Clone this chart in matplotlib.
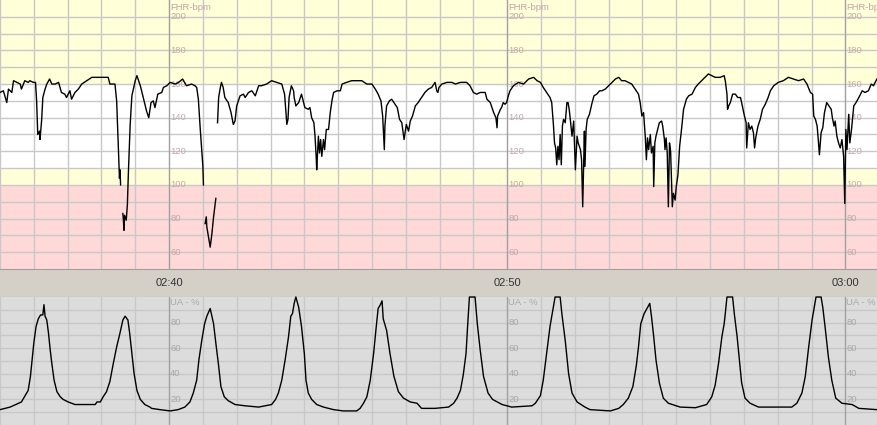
import numpy as np
import matplotlib.pyplot as plt

nan = np.nan

# time in seconds after 02:35:00
fhr_time = [
    0, 6, 12, 15, 21, 24, 36, 38, 44, 50,
    53, 59, 63, 65, 67, 70, 71, 74, 76, 80,
    83, 88, 92, 98, 104, 109, 115, 118, 124, 127,
    133, 139, 145, 154, 163, 172, 183, 192, 195, 204,
    207, 210, 212, 213, 214, 216,
    218, 219, 220, 221, 224, 226, 228, 231, 234, 240,
    243, 249, 252, 260, 264, 268, 272, 275, 280, 287,
    290, 296, 302, 311, 317, 324, 331, 340, 346, 349,
    352, 355, 358, 360, 361, 362,
    364, 366, 367, 370, 373, 376, 379, 383, 384,
    386, 388, 391, 393, 396, 399, 405, 410, 414, 417,
    420, 426, 432, 435, 441, 447, 453, 459, 464, 473,
    482, 491, 500, 505, 509, 511, 513, 517, 521, 522,
    525, 530, 535, 538, 541, 547, 550, 553, 557, 559,
    561, 562, 565, 567, 569, 571, 574, 576, 579, 583,
    586, 589, 592, 598, 604, 607, 615, 624, 633, 642,
    651, 660, 666, 671, 676, 679, 682, 683, 686, 691,
    695, 699, 703, 705, 709, 713, 717, 721, 725, 728,
    732, 737, 742, 748, 754, 760, 766, 772, 775, 777,
    779, 784, 793, 802, 808, 817, 828, 834, 837, 840,
    846, 852, 861, 864, 870, 876, 880, 882, 883, 888,
    890, 893, 896, 899, 902, 905, 911, 920, 929, 938,
    947, 953, 959, 964, 970, 976, 979, 982, 984, 986,
    988, 990, 992, 994, 996, 998, 1000, 1003, 1006, 1008,
    1010, 1012, 1015, 1018, 1021, 1024, 1026, 1030, 1032, 1034,
    1037, 1038, 1040, 1042, 1046, 1050, 1054, 1059, 1064, 1068,
    1074, 1080, 1086, 1092, 1098, 1103, 1109, 1115, 1121, 1127,
    1133, 1136, 1139, 1142, 1145, 1147, 1149, 1151, 1154, 1156,
    1159, 1160, 1162, 1164, 1167, 1170, 1174, 1176, 1179, 1180,
    1182, 1184, 1186, 1188, 1190, 1193, 1195, 1198, 1200, 1203,
    1206, 1209, 1213, 1218, 1222, 1228, 1234, 1239, 1248, 1257,
    1263, 1269, 1278, 1285, 1287, 1290, 1291, 1293, 1296, 1300,
    1305, 1309, 1314, 1316, 1321, 1324, 1325, 1328, 1331, 1334,
    1337, 1339, 1341, 1345, 1349, 1353, 1358, 1363, 1367, 1373,
    1381, 1390, 1399, 1408, 1417, 1426, 1432, 1438, 1442, 1444,
    1447, 1450, 1452, 1454, 1457, 1460, 1463, 1467, 1471, 1475,
    1477, 1480, 1482, 1485, 1488, 1491, 1494, 1497, 1499, 1501,
    1503, 1506, 1508, 1511, 1515, 1519, 1524, 1530, 1535, 1541,
    1546, 1550, 1556,
]
fhr_bpm = [
    155, 156, 149, 157, 155, 162, 160, 157, 162, 161,
    162, 161, 161, 150, 130, 132, 127, 139, 152, 157,
    160, 163, 160, 160, 161, 155, 154, 152, 156, 151,
    155, 157, 160, 162, 164, 164, 164, 164, 160, 160,
    150, 123, 104, 109, 100, nan,
    83, 79, 73, 82, 79, 88, 109, 136, 153, 162,
    165, 159, 155, 144, 140, 149, 150, 146, 154, 155,
    158, 159, 161, 160, 161, 163, 159, 160, 159, 158,
    151, 135, 121, 111, 100, nan,
    77, 81, 75, 69, 63, 71, 81, 92, nan,
    137, 152, 158, 161, 158, 152, 149, 143, 136, 138,
    147, 153, 154, 152, 155, 156, 153, 159, 159, 160,
    162, 161, 160, 154, 136, 139, 152, 159, 156, 152,
    147, 149, 154, 150, 146, 145, 146, 140, 137, 129,
    117, 109, 129, 119, 127, 117, 127, 121, 133, 133,
    143, 150, 155, 156, 156, 160, 161, 162, 162, 162,
    160, 160, 157, 154, 150, 141, 121, 135, 147, 150,
    151, 149, 147, 146, 139, 137, 127, 136, 132, 138,
    141, 147, 149, 152, 155, 157, 158, 161, 156, 155,
    158, 160, 161, 161, 160, 161, 161, 159, 157, 155,
    154, 155, 155, 151, 149, 143, 140, 134, 141, 145,
    146, 149, 148, 149, 153, 156, 159, 161, 160, 163,
    164, 162, 161, 158, 155, 152, 149, 136, 125, 122,
    112, 123, 115, 130, 112, 135, 139, 137, 149, 149,
    145, 139, 129, 138, 109, 129, 125, 121, 115, 87,
    132, 111, 133, 139, 142, 148, 153, 154, 156, 156,
    157, 159, 161, 163, 164, 162, 162, 161, 160, 157,
    154, 149, 141, 143, 129, 115, 128, 121, 130, 119,
    123, 99, 125, 129, 133, 137, 138, 135, 127, 121,
    128, 119, 87, 125, 120, 87, 95, 91, 99, 106,
    123, 132, 145, 151, 153, 154, 158, 160, 163, 166,
    165, 164, 164, 165, 162, 154, 145, 147, 149, 154,
    154, 152, 152, 149, 141, 137, 122, 137, 133, 135,
    131, 122, 128, 135, 139, 145, 148, 152, 156, 159,
    161, 162, 164, 163, 162, 163, 160, 155, 154, 141,
    139, 135, 127, 118, 131, 134, 143, 149, 147, 145,
    140, 135, 138, 129, 125, 122, 127, 117, 89, 133,
    121, 142, 125, 133, 147, 149, 152, 156, 155, 156,
    160, 159, 163,
]

ua_time = [
    0, 18, 38, 50, 54, 57, 60, 64, 68, 72,
    76, 78, 80, 83, 86, 89, 92, 96, 101, 107,
    112, 121, 133, 154, 169, 172, 178, 183, 189, 195,
    201, 207, 213, 218, 222, 227, 230, 234, 238, 243,
    249, 257, 266, 269, 284, 302, 316, 328, 337, 343,
    349, 353, 358, 363, 367, 373, 376, 379, 383, 388,
    392, 398, 405, 417, 435, 459, 482, 489, 494, 500,
    506, 512, 516, 519, 522, 525, 530, 535, 540, 543,
    547, 553, 562, 574, 592, 609, 633, 639, 645, 651,
    657, 663, 667, 671, 675, 678, 680, 686, 692, 699,
    707, 716, 728, 740, 748, 772, 784, 796, 805, 811,
    817, 822, 827, 830, 833, 843, 847, 852, 858, 866,
    874, 891, 908, 944, 950, 959, 964, 970, 976, 982,
    985, 994, 997, 1003, 1009, 1015, 1024, 1038, 1047, 1083,
    1098, 1106, 1115, 1123, 1129, 1133, 1137, 1143, 1148, 1153,
    1156, 1160, 1164, 1170, 1177, 1186, 1207, 1234, 1254, 1263,
    1269, 1275, 1281, 1285, 1287, 1290, 1300, 1303, 1308, 1312,
    1316, 1322, 1331, 1346, 1405, 1414, 1423, 1429, 1435, 1441,
    1445, 1448, 1457, 1460, 1464, 1470, 1476, 1483, 1494, 1512,
    1524, 1556,
]
ua_pct = [
    12, 14, 18, 27, 38, 51, 64, 77, 83, 86,
    86, 94, 85, 82, 72, 59, 48, 35, 26, 22,
    20, 18, 16, 16, 16, 18, 18, 22, 26, 34,
    48, 61, 72, 82, 85, 82, 72, 56, 40, 27,
    20, 16, 14, 13, 12, 11, 12, 14, 18, 25,
    35, 51, 66, 79, 85, 91, 85, 79, 64, 46,
    30, 22, 19, 16, 15, 14, 16, 20, 25, 35,
    51, 69, 85, 87, 95, 100, 92, 77, 56, 35,
    25, 20, 16, 14, 12, 11, 11, 13, 17, 22,
    35, 56, 74, 91, 94, 97, 83, 74, 56, 38,
    26, 21, 18, 17, 13, 13, 13.5, 14, 17, 21,
    27, 39, 56, 79, 100, 100, 79, 59, 38, 25,
    20, 16, 14, 15, 17, 23, 35, 56, 77, 92,
    100, 100, 87, 66, 40, 25, 18, 14, 12, 11,
    13, 16, 21, 30, 46, 61, 79, 87, 91, 95,
    85, 69, 51, 33, 21, 17, 14, 13.5, 16, 22,
    31, 48, 69, 79, 87, 100, 100, 87, 69, 51,
    33, 21, 17, 14, 14, 17, 25, 38, 61, 82,
    92, 100, 100, 92, 77, 53, 35, 21, 17, 16,
    13, 12,
]

time_marks = [300, 900, 1500]
time_labels = ['02:40', '02:50', '03:00']
fhr_labels = [200, 180, 160, 140, 120, 100, 80, 60]
ua_labels = [80, 60, 40, 20]

t_end = 1558
yellow = '#ffffd8'
pink = '#ffd8d8'
grid = '#c8c8c8'
major = '#a0a0a0'

plt.rcParams['font.family'] = ['Liberation Sans', 'DejaVu Sans']

fig = plt.figure(figsize=(8.78, 4.25), dpi=100)
H = 425.0
ax_fhr = fig.add_axes([0, (H - 269) / H, 1, 269 / H])
ax_bar = fig.add_axes([0, (H - 297) / H, 1, 28 / H])
ax_ua = fig.add_axes([0, 0, 1, (H - 297) / H])

for ax in (ax_fhr, ax_bar, ax_ua):
    ax.set_xlim(0, t_end)
    ax.set_xticks([])
    ax.set_yticks([])
    for s in ax.spines.values():
        s.set_visible(False)

# FHR panel
ax_fhr.set_ylim(50, 210)
ax_fhr.axhspan(160, 210, color=yellow, lw=0, zorder=0)
ax_fhr.axhspan(110, 160, color='white', lw=0, zorder=0)
ax_fhr.axhspan(100, 110, color=yellow, lw=0, zorder=0)
ax_fhr.axhspan(50, 100, color=pink, lw=0, zorder=0)
for v in range(60, 210, 10):
    ax_fhr.axhline(v, color=grid, lw=1, zorder=1)

# UA panel
ax_ua.set_ylim(0, 100)
ax_ua.set_facecolor('#dcdcdc')
for v in range(10, 100, 10):
    ax_ua.axhline(v, color=grid, lw=1, zorder=1)

for ax in (ax_fhr, ax_ua):
    for m in range(0, t_end, 60):
        c = major if m in time_marks else grid
        ax.axvline(m, color=c, lw=1, zorder=1.5 if m in time_marks else 1)

ax_fhr.plot(fhr_time, fhr_bpm, color='black', lw=1.0, zorder=3)
ax_ua.plot(ua_time, ua_pct, color='black', lw=1.0, zorder=3, clip_on=False)

for m in time_marks:
    ax_fhr.text(m + 2, 205.5, 'FHR-bpm', color='#c4a2aa', fontsize=6.8,
                ha='left', va='center', zorder=2)
    for v in fhr_labels:
        ax_fhr.text(m + 2, v, str(v), color='#c4a8ac', fontsize=6.8,
                    ha='left', va='center', zorder=2)
    ax_ua.text(m + 2, 96, 'UA - %', color='#a8a8a8', fontsize=6.8,
               ha='left', va='center', zorder=2)
    for v in ua_labels:
        ax_ua.text(m + 2, v, str(v), color='#a8a8a8', fontsize=6.8,
                   ha='left', va='center', zorder=2)

# time strip
ax_bar.set_ylim(0, 1)
ax_bar.set_facecolor('#d4d0c8')
ax_bar.spines['top'].set_visible(True)
ax_bar.spines['bottom'].set_visible(True)
ax_bar.spines['top'].set_color('#a0a0a0')
ax_bar.spines['bottom'].set_color('#a0a0a0')
for m, lab in zip(time_marks, time_labels):
    ax_bar.text(m, 0.5, lab, color='#333333', fontsize=8, ha='center', va='center')

fig.savefig('out.png', dpi=100)
